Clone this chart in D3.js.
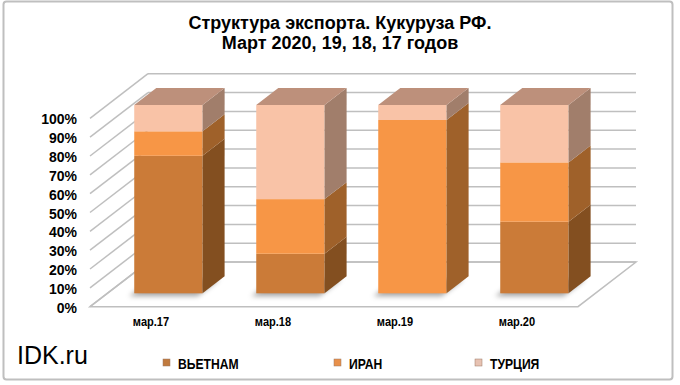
<!DOCTYPE html>
<html>
<head>
<meta charset="utf-8">
<script src="https://cdn.jsdelivr.net/npm/d3@7"></script>
<style>
  body { margin: 0; background: #fff; }
  text { font-family: "Liberation Sans", Arial, sans-serif; }
</style>
</head>
<body>
<div id="chart"></div>
<script>
// export structure, corn RF, March of each year (shares)
const categories = ['мар.17', 'мар.18', 'мар.19', 'мар.20'];
const seriesNames = ['ВЬЕТНАМ', 'ИРАН', 'ТУРЦИЯ'];
const vietnam = [0.73, 0.21, 0.00, 0.38];
const iran = [0.13, 0.29, 0.92, 0.315];
const turkey = [0.14, 0.50, 0.08, 0.305];
const yTicks = [0, 0.1, 0.2, 0.3, 0.4, 0.5, 0.6, 0.7, 0.8, 0.9, 1];

const frontColors = ['#cb7b38', '#f79646', '#f9c3a7'];
const sideColors = ['#834f20', '#9f612a', '#a17e6b'];
const topColor = '#bd907b';
const legendColors = ['#c07a3e', '#e8904a', '#e7c2b2'];

const width = 680, height = 385;
const ox = 90, oy = 306.7;          // front-left corner of the floor
const plotW = 488, plotH = 188.4;
const depthX = 58, depthY = -44.6;  // vector from front plane to back wall
const barF1 = 0.30, barF2 = 0.68;   // bar depth (front / back) as fraction

const rows = categories.map((c, i) => ({cat: c, 'ВЬЕТНАМ': vietnam[i], 'ИРАН': iran[i], 'ТУРЦИЯ': turkey[i]}));
const stacked = d3.stack().keys(seriesNames)(rows);

const x = d3.scaleBand()
    .domain(categories)
    .range([0, plotW])
    .paddingInner(0.44)
    .paddingOuter(0.22);

const y = d3.scaleLinear()
    .domain([0, 1])
    .range([0, plotH]);

function pt(xp, v, f) {
    return [ox + xp + f * depthX, oy - y(v) + f * depthY];
}
function poly(points) {
    return points.map(p => p.join(',')).join(' ');
}

const svg = d3.select('#chart')
    .append('svg')
    .attr('width', width)
    .attr('height', height);

const defs = svg.append('defs');
defs.append('filter')
    .attr('id', 'blur')
    .attr('x', '-30%').attr('y', '-30%').attr('width', '160%').attr('height', '160%')
    .append('feGaussianBlur')
    .attr('stdDeviation', 2.5);

// outer frame
svg.append('rect')
    .attr('x', 3.5)
    .attr('y', 1.5)
    .attr('width', 669)
    .attr('height', 378)
    .attr('rx', 3)
    .attr('fill', '#fff')
    .attr('stroke', '#bfbfbf')
    .attr('stroke-width', 2);

// title
svg.append('text')
    .attr('x', 340)
    .attr('y', 28.5)
    .attr('text-anchor', 'middle')
    .attr('font-size', '18px')
    .attr('font-weight', 'bold')
    .text('Структура экспорта. Кукуруза РФ.');
svg.append('text')
    .attr('x', 340)
    .attr('y', 48.5)
    .attr('text-anchor', 'middle')
    .attr('font-size', '18px')
    .attr('font-weight', 'bold')
    .text('Март 2020, 19, 18, 17 годов');

// walls and floor
const grid = svg.append('g')
    .attr('stroke', '#bfbfbf')
    .attr('stroke-width', 1.5)
    .attr('fill', 'none');

grid.append('polygon')
    .attr('points', poly([pt(0, 0, 0), pt(plotW, 0, 0), pt(plotW, 0, 1), pt(0, 0, 1)]))
    .attr('fill', '#fff');

grid.selectAll('line.back')
    .data(yTicks)
    .enter()
    .append('line')
    .attr('class', 'back')
    .attr('x1', d => pt(0, d, 1)[0])
    .attr('y1', d => pt(0, d, 1)[1])
    .attr('x2', d => pt(plotW, d, 1)[0])
    .attr('y2', d => pt(plotW, d, 1)[1]);

grid.selectAll('line.side')
    .data(yTicks)
    .enter()
    .append('line')
    .attr('class', 'side')
    .attr('x1', d => pt(0, d, 0)[0])
    .attr('y1', d => pt(0, d, 0)[1])
    .attr('x2', d => pt(0, d, 1)[0])
    .attr('y2', d => pt(0, d, 1)[1]);

// y labels
svg.selectAll('text.ylab')
    .data(yTicks)
    .enter()
    .append('text')
    .attr('class', 'ylab')
    .attr('x', 77)
    .attr('y', d => pt(0, d, 0)[1] + 6)
    .attr('text-anchor', 'end')
    .attr('font-size', '14px')
    .attr('font-weight', 'bold')
    .text(d3.format('.0%'));

// x labels (narrow, like the original)
svg.selectAll('text.xlab')
    .data(categories)
    .enter()
    .append('text')
    .attr('class', 'xlab')
    .attr('transform', d => 'translate(' + (ox + x(d) + x.bandwidth() / 2) + ',325.5) scale(0.82,1)')
    .attr('text-anchor', 'middle')
    .attr('font-size', '13.5px')
    .attr('font-weight', 'bold')
    .text(d => d);

// bar shadows
svg.append('g')
    .attr('filter', 'url(#blur)')
    .selectAll('polygon')
    .data(categories)
    .enter()
    .append('polygon')
    .attr('transform', 'translate(-5,3)')
    .attr('fill', 'rgba(0,0,0,0.35)')
    .attr('points', d => {
        const x0 = x(d), x1 = x(d) + x.bandwidth();
        return poly([pt(x0, 0, barF1), pt(x1, 0, barF1), pt(x1, 0, barF2), pt(x0, 0, barF2)]);
    });

// bars
const bars = svg.append('g');
stacked.forEach((layer, si) => {
    const g = bars.append('g');
    layer.forEach((seg, ci) => {
        const c = categories[ci];
        const x0 = x(c), x1 = x(c) + x.bandwidth();
        const v0 = seg[0], v1 = seg[1];
        if (v1 - v0 <= 0) return;
        const a = pt(x0, v1, barF1), b = pt(x1, v0, barF1);
        g.append('rect')
            .attr('x', a[0])
            .attr('y', a[1])
            .attr('width', b[0] - a[0])
            .attr('height', b[1] - a[1])
            .attr('fill', frontColors[si]);
        g.append('polygon')
            .attr('points', poly([pt(x1, v0, barF1), pt(x1, v0, barF2), pt(x1, v1, barF2), pt(x1, v1, barF1)]))
            .attr('fill', sideColors[si]);
        if (si === stacked.length - 1) {
            g.append('polygon')
                .attr('points', poly([pt(x0, v1, barF1), pt(x1, v1, barF1), pt(x1, v1, barF2), pt(x0, v1, barF2)]))
                .attr('fill', topColor);
        }
    });
});

// legend
const legendX = [163, 334, 475];
const legend = svg.selectAll('g.legend')
    .data(seriesNames)
    .enter()
    .append('g')
    .attr('class', 'legend')
    .attr('transform', (d, i) => 'translate(' + legendX[i] + ',359)');
legend.append('rect')
    .attr('width', 7)
    .attr('height', 7)
    .attr('fill', (d, i) => legendColors[i])
    .attr('stroke', '#9a7a66')
    .attr('stroke-width', 0.5);
legend.append('text')
    .attr('transform', 'translate(15,10) scale(0.81,1)')
    .attr('font-size', '15px')
    .attr('font-weight', 'bold')
    .text(d => d);

// watermark
svg.append('text')
    .attr('x', 17)
    .attr('y', 364)
    .attr('font-size', '25px')
    .text('IDK.ru');
</script>
</body>
</html>
